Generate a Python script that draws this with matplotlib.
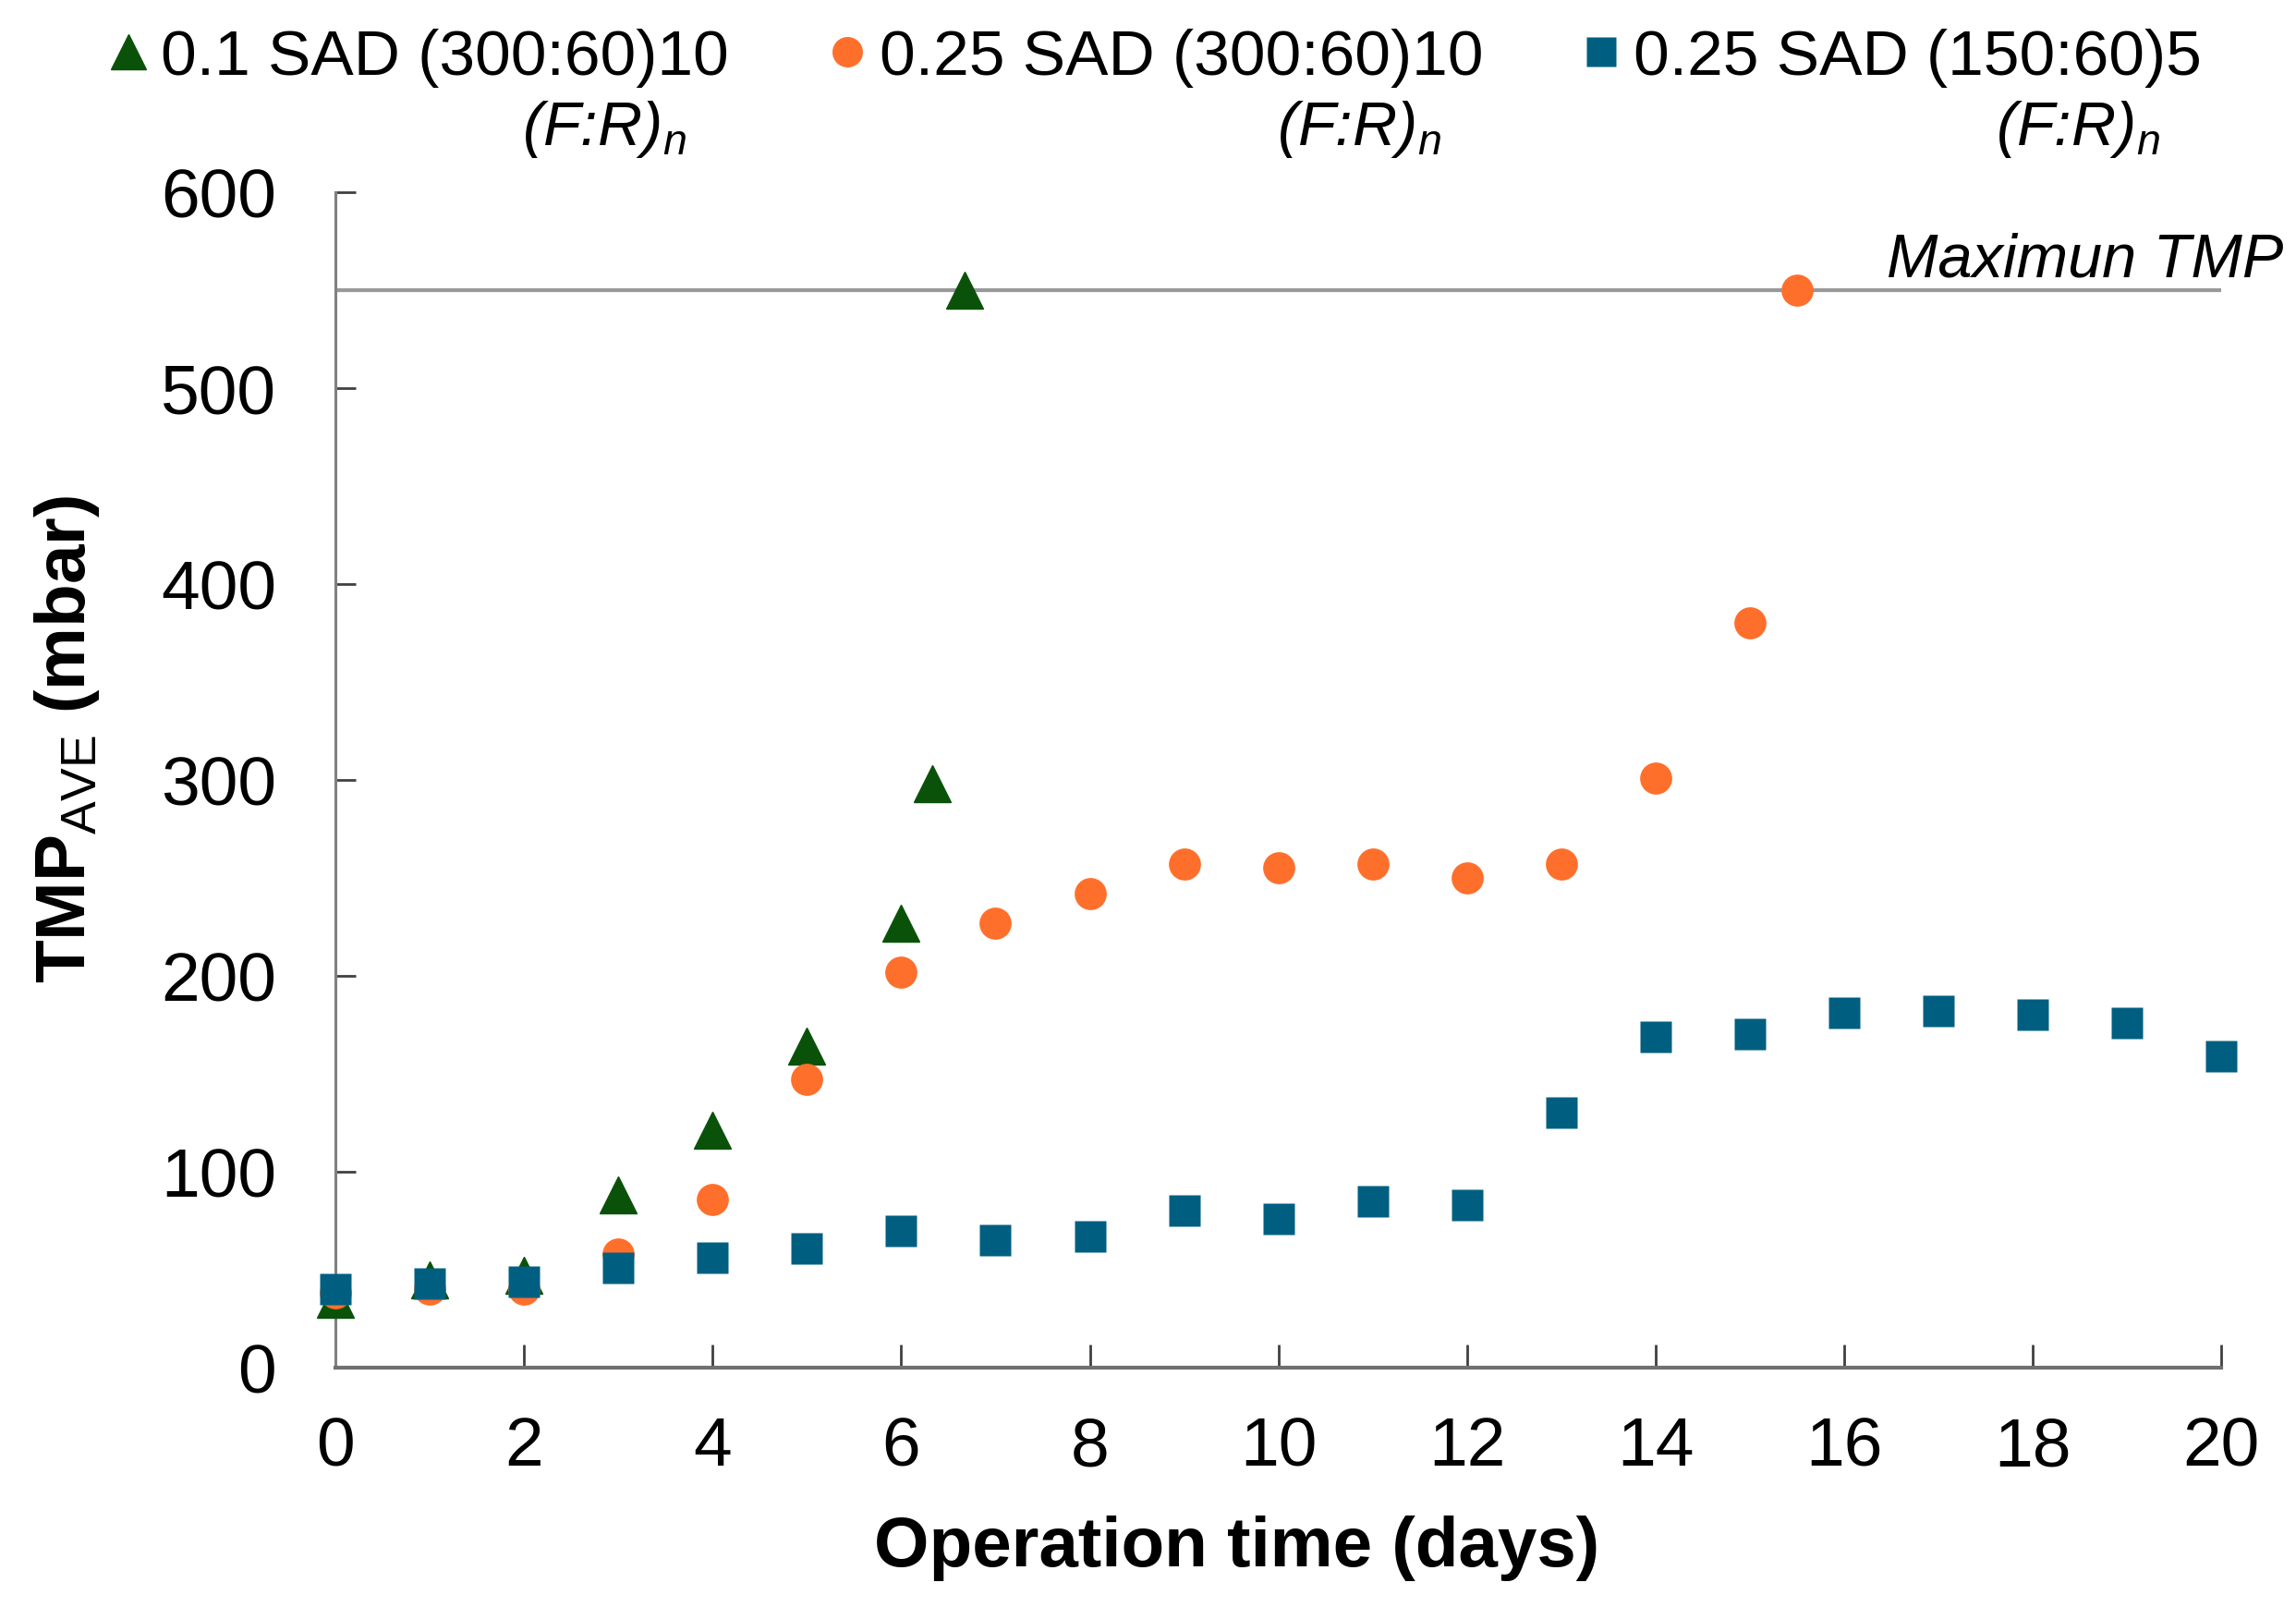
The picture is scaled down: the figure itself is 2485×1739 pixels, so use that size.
import matplotlib
matplotlib.use("Agg")
import matplotlib.pyplot as plt

plt.rcParams['font.family'] = ['Liberation Sans', 'DejaVu Sans']
plt.rcParams['mathtext.fontset'] = 'custom'
plt.rcParams['mathtext.rm'] = 'Liberation Sans'
plt.rcParams['mathtext.it'] = 'Liberation Sans:italic'
plt.rcParams['mathtext.bf'] = 'Liberation Sans:bold'

# datos
dias_01 = [0, 1, 2, 3, 4, 5, 6, 6.33, 6.67]
tmp_01 = [35, 45, 47, 88, 121, 164, 227, 298, 550]

dias_025 = [0, 1, 2, 3, 4, 5, 6, 7, 8, 9, 10, 11, 12, 13, 14, 15, 15.5]
tmp_025 = [38, 40, 40, 58, 86, 147, 202, 227, 242, 257, 255, 257, 250, 257, 301, 380, 550]

dias_150 = list(range(0, 21))
tmp_150 = [40, 43, 44, 51, 56, 61, 70, 65, 67, 80, 76, 85, 83, 130, 169, 170, 181, 182, 180, 176, 159]

tmp_max = 550

etiquetas = ["0.1 SAD (300:60)10", "0.25 SAD (300:60)10", "0.25 SAD (150:60)5"]
verde = "#0a520a"
naranja = "#ff6f2c"
azul = "#005f80"

fig = plt.figure(figsize=(24.85, 17.40), dpi=100)
ax = fig.add_axes([0.1461, 0.1489, 0.8214, 0.7311])

ax.plot([0, 20], [tmp_max, tmp_max], color="#999999", lw=3, zorder=1)
ax.text(20.66, 557, "Maximun TMP", style="italic", fontsize=48, ha="right", va="baseline")

l1, = ax.plot(dias_01, tmp_01, ls="none", marker="^", ms=29, color=verde, clip_on=False, zorder=3)
l2, = ax.plot(dias_025, tmp_025, ls="none", marker="o", ms=25, color=naranja, mec="none", clip_on=False, zorder=4)
l3, = ax.plot(dias_150, tmp_150, ls="none", marker="s", ms=24, color=azul, mec="none", clip_on=False, zorder=5)

ax.set_xlim(0, 20)
ax.set_ylim(0, 600)
ax.set_xticks(range(0, 21, 2))
ax.set_yticks(range(0, 601, 100))
ax.tick_params(axis="x", direction="in", length=18, width=2, color="#404040", labelsize=54, pad=37)
ax.tick_params(axis="y", direction="in", length=16, width=2, color="#404040", labelsize=54, pad=46)

for lado in ["top", "right"]:
    ax.spines[lado].set_visible(False)
ax.spines["bottom"].set_color("#707070")
ax.spines["bottom"].set_linewidth(3)
ax.spines["left"].set_color("#808080")
ax.spines["left"].set_linewidth(2.2)

ax.set_xlabel("Operation time (days)", fontsize=55, fontweight="bold")
ax.xaxis.set_label_coords(0.478, -0.125)
ax.set_ylabel(r"TMP$_{\mathrm{AVE}}$ (mbar)", fontsize=55, fontweight="bold")
ax.yaxis.set_label_coords(-0.124, 0.535)

leg = fig.legend([l1, l2, l3], etiquetas, loc="upper left", bbox_to_anchor=(0.0447, 0.982),
                 ncol=3, frameon=False, fontsize=50, handlelength=0.8, handletextpad=0.1,
                 columnspacing=1.45, borderpad=0, borderaxespad=0, markerscale=0.95)

fig.canvas.draw()
r = fig.canvas.get_renderer()
for t in leg.get_texts():
    bb = t.get_window_extent(r)
    fig.text((bb.x1 - 45) / fig.bbox.width, 1 - 157 / 1740, r"(F:R)$_{\mathit{n}}$",
             style="italic", fontsize=48, ha="right", va="baseline")

fig.savefig("out.png", dpi=100)
